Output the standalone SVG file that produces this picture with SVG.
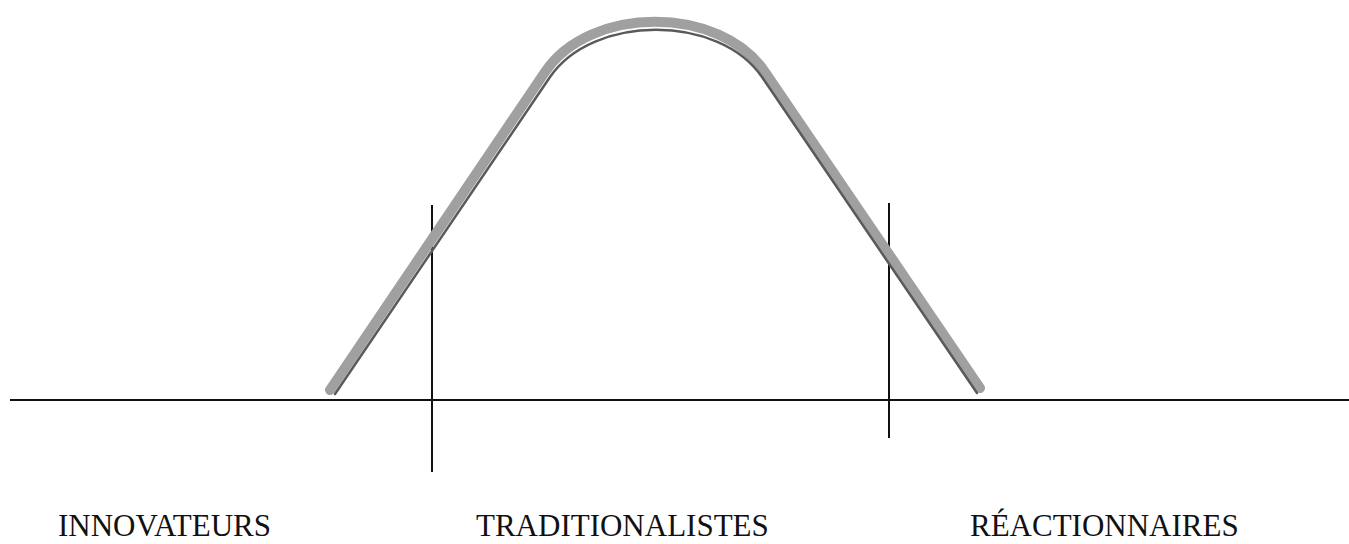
<svg xmlns="http://www.w3.org/2000/svg" width="1349" height="544" viewBox="0 0 1349 544">
<style>
.axis{stroke:#111;stroke-width:2;fill:none}
.curve{fill:none;stroke:#a0a0a0;stroke-width:10;stroke-linecap:round;stroke-linejoin:round}
.curve-edge{fill:none;stroke:#5a5a5a;stroke-width:2.5;stroke-linecap:round}
.lbl{font-family:"Liberation Serif","Times New Roman",serif;font-size:31px;fill:#111}
</style>
<rect width="1349" height="544" fill="#fff"/>
<g id="connectors">
<line class="axis" x1="10" y1="400" x2="1349" y2="400"/>
<line class="axis" x1="432" y1="205" x2="432" y2="472" stroke-width="1.5"/>
<line class="axis" x1="889" y1="203" x2="889" y2="438" stroke-width="1.5"/>
</g>
<g id="curve">
<path class="curve" d="M330,390 L545,72 C590,5 720,5 765,72 L980,388"/>
<path class="curve-edge" d="M334,392 L549,75 C592,12 718,12 761,75 L976,391" transform="translate(1,2)"/>
</g>
<g id="label-innovateurs"><text class="lbl" x="58" y="536">INNOVATEURS</text></g>
<g id="label-traditionalistes"><text class="lbl" x="476" y="536">TRADITIONALISTES</text></g>
<g id="label-reactionnaires"><text class="lbl" x="970" y="536">RÉACTIONNAIRES</text></g>
</svg>
